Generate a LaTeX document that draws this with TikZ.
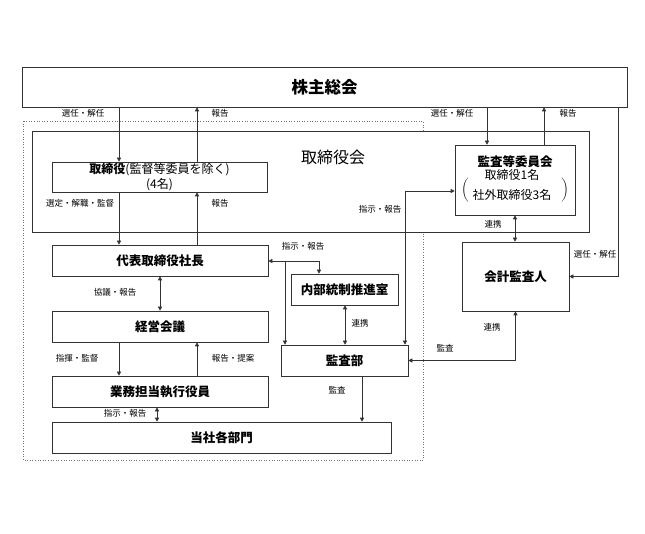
\documentclass[tikz,border=0pt]{standalone}
\usepackage{fontspec}
\setmainfont{Noto Sans CJK JP}
\usetikzlibrary{arrows.meta,positioning,calc}

\begin{document}
\begin{tikzpicture}[x=1pt, y=-1pt,
  unit/.style={draw=black!80, line width=0.6pt, fill=white, align=center, inner sep=0pt, font=\fontsize{12.5}{14}\selectfont\bfseries},
  lbl/.style={font=\fontsize{8.5}{9}\selectfont, inner sep=0pt},
  link/.style={draw=black!80, line width=0.6pt},
  >={Triangle[length=4pt,width=4pt]}]
  \useasboundingbox (0,0) rectangle (645,534);
  % frames
  \draw[black!55, dotted, line width=0.6pt] (23,121) rectangle (423,460);
  \node[unit, minimum width=557pt, minimum height=101pt] (bod) at (310.5,181.5) {};
  \node[font=\fontsize{16}{18}\selectfont] (bodname) at (333,157) {取締役会};
  \node[unit, minimum width=605pt, minimum height=40pt, font=\fontsize{16.5}{18}\selectfont\bfseries] (gm) at (324.5,87) {株主総会};
  % boxes
  \node[unit, minimum width=215pt, minimum height=30pt, font=\fontsize{12}{15}\selectfont] (dir) at (159.5,177)
    {\textbf{取締役}(監督等委員を除く)\\(4名)};
  \node[unit, minimum width=216pt, minimum height=31pt] (pres) at (160,260.5) {代表取締役社長};
  \node[unit, minimum width=216pt, minimum height=31pt] (keiei) at (160,326.5) {経営会議};
  \node[unit, minimum width=216pt, minimum height=31pt] (gyomu) at (160,391.5) {業務担当執行役員};
  \node[unit, minimum width=216pt, minimum height=31pt, minimum width=339pt] (bumon) at (221.5,437.5) {当社各部門};
  \node[unit, minimum width=107pt, minimum height=31pt] (naibu) at (344.5,289.5) {内部統制推進室};
  \node[unit, minimum width=127pt, minimum height=31pt] (kansabu) at (344.5,360.5) {監査部};
  \node[unit, minimum width=120pt, minimum height=70pt, font=\fontsize{12.5}{13}\selectfont\bfseries] (audcom) at (515,180)
    {監査等委員会\\
     \mdseries\fontsize{12}{13}\selectfont
     \raisebox{-13pt}{$\bigg($}\hspace{4pt}\begin{tabular}[t]{@{}c@{}}取締役1名\\[6pt]社外取締役3名\end{tabular}\hspace{10pt}\raisebox{-13pt}{$\bigg)$}};
  \node[unit, minimum width=107pt, minimum height=69pt] (kaikei) at (515.5,276.5) {会計監査人};
  % connectors
  \coordinate (xa) at (119,0);
  \coordinate (xb) at (197,0);
  \coordinate (xc) at (160,0);
  \coordinate (xd) at (157,0);
  \coordinate (xe) at (319,0);
  \coordinate (xf) at (345,0);
  \coordinate (xg) at (362,0);
  \coordinate (xh) at (405,0);
  \coordinate (xi) at (487,0);
  \coordinate (xj) at (544,0);
  \coordinate (xk) at (618,0);
  \coordinate (ya) at (0,191);
  \coordinate (hub) at (285,261);
  \draw[link,->] (gm.south -| xa) -- (dir.north -| xa);
  \draw[link,->] (dir.north -| xb) -- (gm.south -| xb);
  \draw[link,->] (dir.south -| xa) -- (pres.north -| xa);
  \draw[link,->] (pres.north -| xb) -- (dir.south -| xb);
  \draw[link,<->] (pres.south -| xc) -- (keiei.north -| xc);
  \draw[link,->] (keiei.south -| xa) -- (gyomu.north -| xa);
  \draw[link,->] (gyomu.north -| xb) -- (keiei.south -| xb);
  \draw[link,<->] (gyomu.south -| xd) -- (bumon.north -| xd);
  \draw[link,->] (hub) -- (pres.east |- hub);
  \draw[link,->] (hub) -| (naibu.north -| xe);
  \draw[link,->] (hub) -- (kansabu.north -| hub);
  \draw[link,<->] (naibu.south -| xf) -- (kansabu.north -| xf);
  \draw[link,->] (kansabu.south -| xg) -- (bumon.north -| xg);
  \draw[link,<->] (audcom.west |- ya) -| (kansabu.north -| xh);
  \draw[link,->] (gm.south -| xi) -- (audcom.north -| xi);
  \draw[link,->] (audcom.north -| xj) -- (gm.south -| xj);
  \draw[link,<->] (audcom.south) -- (audcom.south |- kaikei.north);
  \draw[link,->] (gm.south -| xk) |- (kaikei.east);
  \draw[link,<->] (kaikei.south) |- (kansabu.east);
  % labels
  \node[lbl] (lSel1) at (83,113) {選任・解任};
  \node[lbl] (lRep1) at (220,113) {報告};
  \node[lbl] (lSup) at (80,203) {選定・解職・監督};
  \node[lbl] (lRep2) at (220,203) {報告};
  \node[lbl] (lKyo) at (115,292) {協議・報告};
  \node[lbl] (lShiki) at (77,358) {指揮・監督};
  \node[lbl] (lTei) at (233,358) {報告・提案};
  \node[lbl] (lShi1) at (125,413) {指示・報告};
  \node[lbl] (lShi2) at (303,246) {指示・報告};
  \node[lbl] (lRen1) at (360,323) {連携};
  \node[lbl] (lKan1) at (337,390) {監査};
  \node[lbl] (lShi3) at (380,209) {指示・報告};
  \node[lbl] (lSel2) at (452,113) {選任・解任};
  \node[lbl] (lRep3) at (568,113) {報告};
  \node[lbl] (lRen2) at (493,224) {連携};
  \node[lbl] (lSel3) at (595,254) {選任・解任};
  \node[lbl] (lRen3) at (492,327) {連携};
  \node[lbl] (lKan2) at (445,348) {監査};
\end{tikzpicture}
\end{document}
